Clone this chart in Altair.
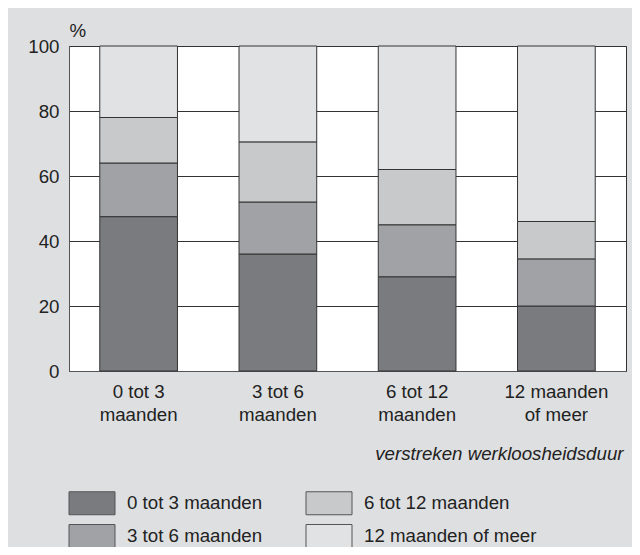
import altair as alt
import pandas as pd

categories = ["0 tot 3 maanden", "3 tot 6 maanden", "6 tot 12 maanden", "12 maanden of meer"]
series_names = ["0 tot 3 maanden", "3 tot 6 maanden", "6 tot 12 maanden", "12 maanden of meer"]
s_0_3 = [47.5, 36, 29, 20]
s_3_6 = [16.5, 16, 16, 14.5]
s_6_12 = [14, 18.5, 17, 11.5]
s_12 = [22, 29.5, 38, 54]
series_colors = ["#7a7b7f", "#a1a2a6", "#c8c9cb", "#e1e2e4"]
y_ticks = [0, 20, 40, 60, 80, 100]

rows = []
for si, (name, vals) in enumerate(zip(series_names, [s_0_3, s_3_6, s_6_12, s_12])):
    for cat, v in zip(categories, vals):
        rows.append({"cat": cat, "serie": name, "value": v, "ord": si})
df = pd.DataFrame(rows)

font = "Liberation Sans"
fs = 18.7
label_expr = ("datum.label == '12 maanden of meer' ? ['12 maanden', 'of meer'] : "
              "[replace(datum.label, ' maanden', ''), 'maanden']")

chart = alt.Chart(df).mark_bar(stroke="#333333", strokeWidth=1).encode(
    x=alt.X("cat:N", sort=categories,
            scale=alt.Scale(paddingInner=0.442, paddingOuter=0.221),
            axis=alt.Axis(title="verstreken werkloosheidsduur", labelAngle=0,
                          labelExpr=label_expr, labelFontSize=fs, labelFont=font,
                          labelColor="#222222", labelLineHeight=23, labelPadding=11,
                          labelBaseline="top", labelLimit=0,
                          ticks=False, tickSize=0, domainColor="#555555",
                          titleFont=font, titleFontSize=fs, titleFontStyle="italic",
                          titleFontWeight="normal", titleColor="#222222",
                          titleAnchor="end", titleAlign="right", titleX=554, titleY=88,
                          titleBaseline="alphabetic")),
    y=alt.Y("value:Q", stack="zero",
            scale=alt.Scale(domain=[0, 100], nice=False),
            axis=alt.Axis(title="%", values=y_ticks, labelFontSize=fs, labelFont=font,
                          labelColor="#222222", labelPadding=10, ticks=False, tickSize=0,
                          grid=True, gridColor="#333333", gridOpacity=1, gridWidth=1,
                          domainColor="#555555",
                          titleFont=font, titleFontSize=fs, titleFontWeight="normal",
                          titleColor="#222222", titleAngle=0, titleAlign="left",
                          titleX=0, titleY=-10, titleBaseline="alphabetic")),
    color=alt.Color("serie:N",
                    scale=alt.Scale(domain=series_names, range=series_colors),
                    legend=alt.Legend(title=None, orient="none", legendX=0, legendY=445,
                                      direction="vertical",
                                      columns=2, columnPadding=41, rowPadding=5,
                                      symbolType="M-2,-1H2V1H-2Z", symbolSize=529,
                                      symbolOffset=11, labelOffset=23,
                                      symbolStrokeColor="#555555", symbolStrokeWidth=1,
                                      symbolOpacity=1,
                                      labelFont=font, labelFontSize=fs, labelColor="#222222",
                                      labelLimit=0, padding=0)),
    order=alt.Order("ord:Q", sort="ascending"),
).properties(
    width=557, height=325,
    background="#dedfe1",
    padding={"left": 61, "top": 38, "right": 6, "bottom": 176},
    autosize=alt.AutoSizeParams(type="none"),
).configure_view(
    stroke="#333333", fill="white"
)

chart.save("out.html", embed_options={"renderer": "svg", "actions": False})
